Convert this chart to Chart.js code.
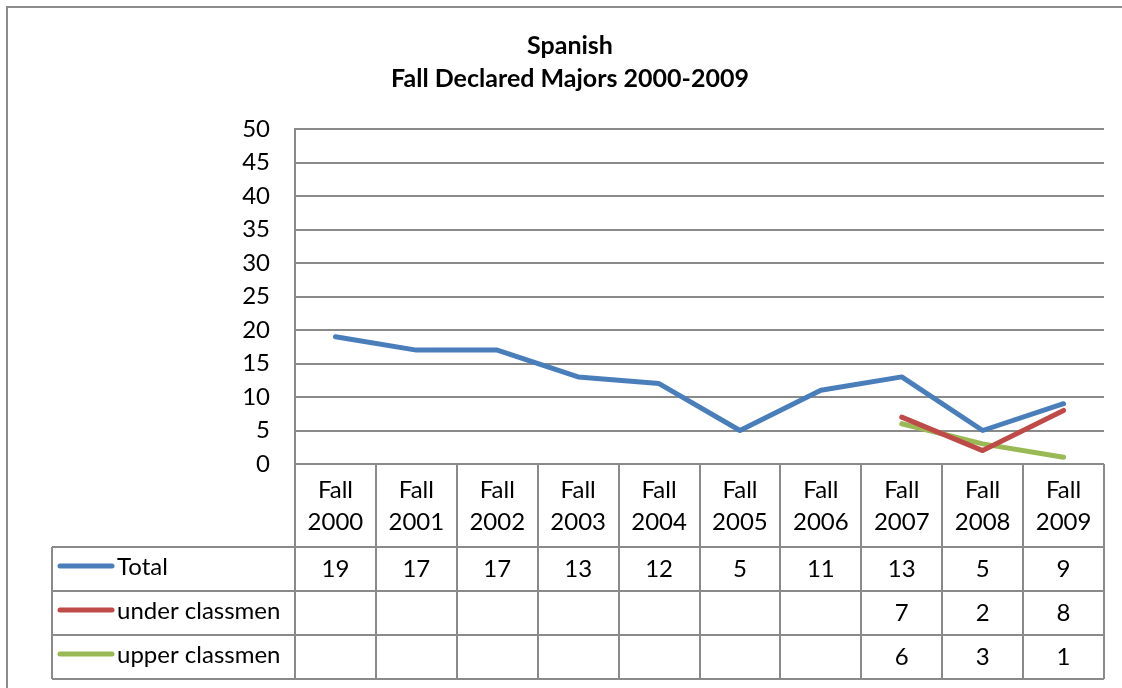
<!DOCTYPE html>
<html>
<head>
<meta charset="utf-8">
<script src="https://cdn.jsdelivr.net/npm/chart.js@4"></script>
<style>
  html,body{margin:0;padding:0;background:#fff;}
  #wrap{width:1122px;height:688px;position:relative;}
</style>
</head>
<body>
<div id="wrap"><canvas id="c" width="1122" height="688"></canvas></div>
<script>
// data
const categories = ['Fall 2000','Fall 2001','Fall 2002','Fall 2003','Fall 2004','Fall 2005','Fall 2006','Fall 2007','Fall 2008','Fall 2009'];
const totalVals = [19,17,17,13,12,5,11,13,5,9];
const underVals = [null,null,null,null,null,null,null,7,2,8];
const upperVals = [null,null,null,null,null,null,null,6,3,1];
const seriesNames = ['Total','under classmen','upper classmen'];
const titleLines = ['Spanish','Fall Declared Majors 2000-2009'];

const FONT = 'Lato, "Open Sans", sans-serif';
const GRID = '#8a8a8a';
const colors = ['#4a7ebb','#be4b48','#98b954'];

// frame, title and data table under the plot
const tablePlugin = {
  id:'tablePlugin',
  afterDraw(chart){
    const ctx = chart.ctx;
    const x = chart.scales.x;
    const area = chart.chartArea;
    const n = categories.length;
    const cw = (area.right - area.left) / n;
    const top = area.bottom;
    const hdrBot = top + 83;
    const rowH = 44;
    const tabLeft = 52;
    const tabBot = hdrBot + rowH*3;
    ctx.save();

    // outer frame
    ctx.strokeStyle = '#8c8c8c'; ctx.lineWidth = 2;
    ctx.beginPath(); ctx.moveTo(7,700); ctx.lineTo(7,7); ctx.lineTo(1122,7); ctx.stroke();

    // title
    ctx.fillStyle = '#000';
    ctx.font = 'bold 25px ' + FONT;
    ctx.textAlign = 'center'; ctx.textBaseline = 'middle';
    ctx.fillText(titleLines[0], 570, 46);
    ctx.fillText(titleLines[1], 570, 79);

    // table grid
    ctx.strokeStyle = GRID; ctx.lineWidth = 2;
    ctx.beginPath();
    for(let i=0;i<=n;i++){
      const gx = Math.round(area.left + i*cw);
      ctx.moveTo(gx, top); ctx.lineTo(gx, tabBot);
    }
    ctx.moveTo(tabLeft, hdrBot); ctx.lineTo(tabLeft, tabBot);
    for(let r=0;r<=3;r++){
      const gy = hdrBot + r*rowH;
      ctx.moveTo(tabLeft, gy); ctx.lineTo(area.right, gy);
    }
    ctx.stroke();

    // category headers
    ctx.font = '24px ' + FONT;
    ctx.fillStyle = '#000';
    categories.forEach((c,i)=>{
      const cx = x.getPixelForValue(i);
      const parts = c.split(' ');
      ctx.fillText(parts[0], cx, top + 26);
      ctx.fillText(parts[1], cx, top + 58);
    });

    // rows
    const rows = [totalVals, underVals, upperVals];
    rows.forEach((vals,r)=>{
      const cy = hdrBot + r*rowH + rowH/2;
      ctx.strokeStyle = colors[r]; ctx.lineWidth = 5; ctx.lineCap = 'round';
      ctx.beginPath(); ctx.moveTo(60, cy - 3); ctx.lineTo(112, cy - 3); ctx.stroke();
      ctx.textAlign = 'left';
      ctx.fillText(seriesNames[r], 117, cy - 2);
      ctx.textAlign = 'center';
      vals.forEach((v,i)=>{
        if(v === null) return;
        ctx.fillText(String(v), x.getPixelForValue(i), cy);
      });
    });
    ctx.restore();
  }
};

const ds = (label, data, color) => ({
  label, data, borderColor: color, backgroundColor: color,
  borderWidth: 5, pointRadius: 0, tension: 0, spanGaps: false,
  borderCapStyle: 'round', borderJoinStyle: 'round'
});

new Chart(document.getElementById('c').getContext('2d'), {
  type:'line',
  data:{
    labels: categories,
    datasets:[
      ds(seriesNames[0], totalVals, colors[0]),
      ds(seriesNames[1], underVals, colors[1]),
      ds(seriesNames[2], upperVals, colors[2])
    ]
  },
  options:{
    responsive:false,
    animation:false,
    layout:{padding:{left:235, top:129, right:18, bottom:224}},
    plugins:{legend:{display:false}, title:{display:false}, tooltip:{enabled:false}},
    scales:{
      x:{ display:false, offset:true },
      y:{
        min:0, max:50,
        afterFit(s){ s.width = 60; },
        border:{display:true, color:GRID, width:2},
        grid:{color:GRID, lineWidth:2, drawTicks:false},
        ticks:{stepSize:5, color:'#000', padding:25, font:{family:FONT, size:24}}
      }
    }
  },
  plugins:[tablePlugin]
});
</script>
</body>
</html>
